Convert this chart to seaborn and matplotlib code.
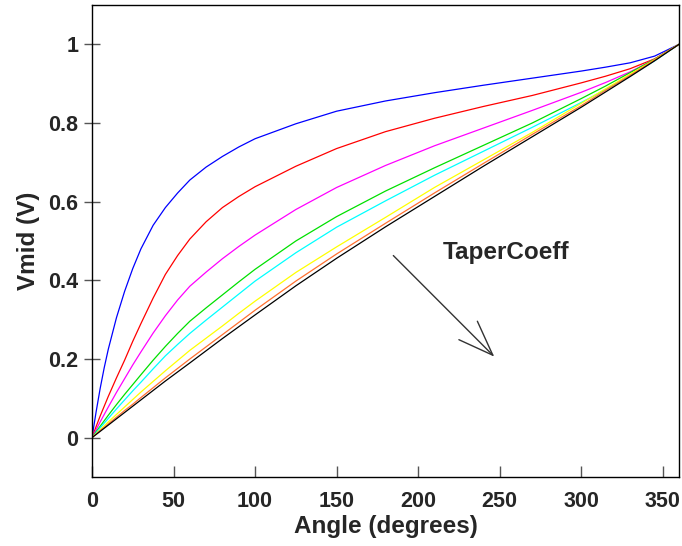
import pandas as pd
import seaborn as sns
import matplotlib.pyplot as plt

# angle of the pot (degrees)
angle = [0, 2.5, 5, 7.5, 10, 15, 20, 25, 30, 37.5, 45, 52.5, 60, 70, 80, 90, 100,
         125, 150, 180, 210, 240, 270, 300, 315, 330, 345, 360]

# Vmid for each TaperCoeff curve
blue = [0, 0.065, 0.125, 0.178, 0.225, 0.305, 0.372, 0.43, 0.48, 0.54, 0.585, 0.622, 0.655, 0.688, 0.715, 0.739, 0.76,
        0.798, 0.83, 0.856, 0.877, 0.896, 0.914, 0.932, 0.942, 0.953, 0.97, 1.0]
red = [0, 0.028, 0.055, 0.08, 0.105, 0.152, 0.197, 0.245, 0.29, 0.355, 0.415, 0.463, 0.505, 0.549, 0.585, 0.613, 0.638,
       0.69, 0.735, 0.778, 0.812, 0.842, 0.87, 0.902, 0.919, 0.938, 0.963, 1.0]
magenta = [0, 0.02, 0.04, 0.059, 0.078, 0.115, 0.15, 0.185, 0.218, 0.266, 0.31, 0.35, 0.385, 0.421, 0.455, 0.486, 0.515,
           0.58, 0.636, 0.692, 0.742, 0.787, 0.832, 0.878, 0.903, 0.93, 0.962, 1.0]
green = [0, 0.015, 0.029, 0.043, 0.057, 0.084, 0.11, 0.135, 0.16, 0.197, 0.232, 0.265, 0.296, 0.33, 0.363, 0.396, 0.428,
         0.5, 0.562, 0.627, 0.686, 0.743, 0.8, 0.862, 0.894, 0.928, 0.962, 1.0]
cyan = [0, 0.012, 0.025, 0.037, 0.049, 0.073, 0.096, 0.119, 0.141, 0.175, 0.208, 0.237, 0.265, 0.299, 0.332, 0.365, 0.398,
        0.47, 0.535, 0.602, 0.667, 0.728, 0.789, 0.852, 0.885, 0.92, 0.958, 1.0]
yellow = [0, 0.01, 0.02, 0.03, 0.04, 0.059, 0.078, 0.097, 0.116, 0.143, 0.17, 0.196, 0.222, 0.253, 0.284, 0.316, 0.347,
          0.42, 0.485, 0.56, 0.636, 0.706, 0.776, 0.85, 0.887, 0.924, 0.961, 1.0]
orange = [0, 0.009, 0.018, 0.026, 0.035, 0.052, 0.069, 0.085, 0.102, 0.127, 0.152, 0.176, 0.2, 0.231, 0.262, 0.293, 0.324,
          0.398, 0.467, 0.545, 0.622, 0.697, 0.771, 0.844, 0.883, 0.921, 0.96, 1.0]
black = [0, 0.008, 0.016, 0.024, 0.032, 0.048, 0.064, 0.08, 0.096, 0.12, 0.144, 0.167, 0.19, 0.221, 0.252, 0.282, 0.312,
         0.386, 0.456, 0.536, 0.613, 0.69, 0.765, 0.84, 0.879, 0.918, 0.958, 1.0]

curves = [blue, red, magenta, green, cyan, yellow, orange, black]
names = ['c1', 'c2', 'c3', 'c4', 'c5', 'c6', 'c7', 'c8']
colors = ['#0000ff', '#ff0000', '#ff00ff', '#00e000', '#00ffff', '#ffff00', '#ff7030', '#000000']

xticks = [0, 50, 100, 150, 200, 250, 300, 350]
yticks = [0, 0.2, 0.4, 0.6, 0.8, 1.0]
ytick_labels = ['0', '0.2', '0.4', '0.6', '0.8', '1']

sns.set_style('ticks')
plt.rcParams['font.family'] = ['Liberation Sans', 'DejaVu Sans']
plt.rcParams['font.weight'] = 'bold'

rows = []
for name, vals in zip(names, curves):
    for a, v in zip(angle, vals):
        rows.append({'angle': a, 'vmid': v, 'taper': name})
df = pd.DataFrame(rows)

fig = plt.figure(figsize=(6.82, 5.46), dpi=100)
ax = fig.add_axes([92 / 682, 69 / 546, 587 / 682, 472 / 546])

sns.lineplot(data=df, x='angle', y='vmid', hue='taper', palette=colors,
             legend=False, lw=0.9, ax=ax)

ax.set_xlim(0, 360)
ax.set_ylim(-0.1, 1.1)
ax.set_xticks(xticks)
ax.set_yticks(yticks)
ax.set_yticklabels(ytick_labels)

ax.tick_params(axis='x', direction='in', length=8, width=1, color='#555555',
               pad=10, labelsize=15.5)
ax.tick_params(axis='y', direction='inout', length=11.5, width=1, color='#555555',
               pad=4, labelsize=15.5)
for lab in ax.get_xticklabels() + ax.get_yticklabels():
    lab.set_fontweight('bold')

for sp in ax.spines.values():
    sp.set_visible(True)
    sp.set_linewidth(1)
    sp.set_color('black')

ax.set_xlabel('Angle (degrees)', fontsize=17.5, fontweight='bold')
ax.set_ylabel('Vmid (V)', fontsize=17.5, fontweight='bold')
ax.xaxis.set_label_coords(0.5, -0.08)
ax.yaxis.set_label_coords(-0.088, 0.5)

ax.annotate('', xy=(246.7, 0.206), xytext=(184.8, 0.463),
            arrowprops=dict(arrowstyle='->,head_length=1.26,head_width=0.47',
                            color='#333333', lw=1, mutation_scale=20,
                            shrinkA=0, shrinkB=0))
ax.text(215.3, 0.47, 'TaperCoeff', ha='left', va='center', fontsize=17.5,
        fontweight='bold')

plt.savefig('out.png', dpi=100)
